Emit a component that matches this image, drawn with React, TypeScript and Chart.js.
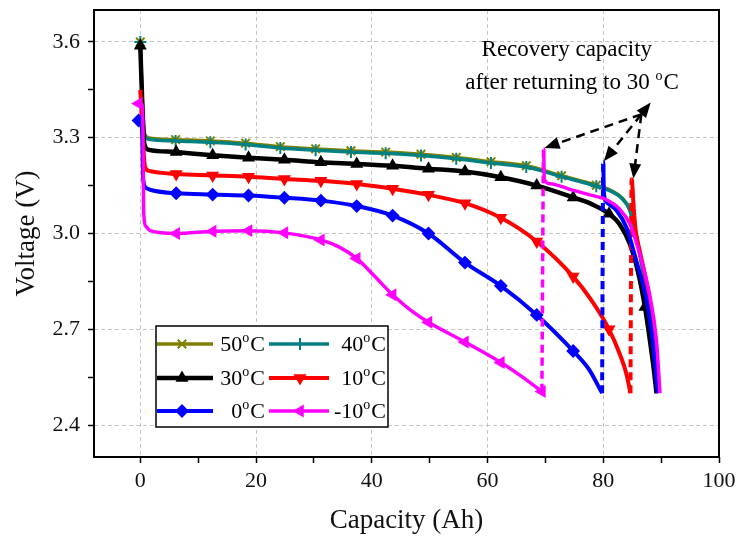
import React, { useEffect, useRef } from 'react';
import { Chart, registerables } from 'chart.js';

Chart.register(...registerables);

const FONT = "'Liberation Serif', 'Times New Roman', serif";

// ---- axes ----
const xMin = -8;
const xMax = 100;
const yMin = 2.3;
const yMax = 3.7;
const xTickValues = [0, 10, 20, 30, 40, 50, 60, 70, 80, 90, 100];
const xLabelValues = [0, 20, 40, 60, 80, 100];
const yTickValues = [2.4, 2.55, 2.7, 2.85, 3.0, 3.15, 3.3, 3.45, 3.6];
const yLabelValues = [2.4, 2.7, 3.0, 3.3, 3.6];

// ---- 50 °C ----
const cap50 = [0, 0.3, 0.7, 1.5, 6.1, 12.1, 18.2, 24.2, 30.3, 36.4, 42.4, 48.5, 54.6, 60.6, 66.7, 72.8, 78.8, 81.5, 83.2, 84.6, 85.5, 86.4, 87.4, 88.3, 88.9, 89.3];
const volt50 = [3.6, 3.43, 3.315, 3.299, 3.294, 3.29, 3.283, 3.272, 3.265, 3.259, 3.255, 3.248, 3.238, 3.225, 3.212, 3.181, 3.151, 3.133, 3.112, 3.075, 3.01, 2.93, 2.83, 2.71, 2.6, 2.5];
const mark50 = [0, 6.1, 12.1, 18.2, 24.2, 30.3, 36.4, 42.4, 48.5, 54.6, 60.6, 66.7, 72.8, 78.8];

// ---- 40 °C ----
const cap40 = [0, 0.3, 0.7, 1.5, 6.1, 12.1, 18.2, 24.2, 30.3, 36.4, 42.4, 48.5, 54.6, 60.6, 66.7, 72.8, 78.8, 81.5, 83.2, 84.6, 85.5, 86.4, 87.4, 88.3, 88.9, 89.3];
const volt40 = [3.6, 3.43, 3.31, 3.295, 3.29, 3.286, 3.279, 3.268, 3.261, 3.255, 3.251, 3.244, 3.234, 3.221, 3.208, 3.178, 3.148, 3.131, 3.11, 3.072, 3.005, 2.925, 2.825, 2.705, 2.595, 2.5];
const mark40 = [0, 6.1, 12.1, 18.2, 24.2, 30.3, 36.4, 42.4, 48.5, 54.6, 60.6, 66.7, 72.8, 78.8];

// ---- 30 °C ----
const cap30 = [0, 0.3, 0.7, 1.5, 6.2, 12.5, 18.7, 24.9, 31.2, 37.4, 43.6, 49.8, 56.1, 62.3, 68.5, 74.8, 78.0, 81.0, 82.8, 84.6, 86.0, 87.2, 88.1, 88.7, 89.2];
const volt30 = [3.588, 3.43, 3.28, 3.262, 3.255, 3.245, 3.237, 3.231, 3.223, 3.218, 3.212, 3.203, 3.194, 3.176, 3.15, 3.113, 3.092, 3.062, 3.03, 2.967, 2.88, 2.77, 2.66, 2.58, 2.5];
const mark30 = [0, 6.2, 12.5, 18.7, 24.9, 31.2, 37.4, 43.6, 49.8, 56.1, 62.3, 68.5, 74.8, 81.0, 87.2];

// ---- 10 °C ----
const cap10 = [0, 0.3, 0.8, 1.5, 6.2, 12.5, 18.7, 24.9, 31.2, 37.4, 43.6, 49.8, 56.1, 62.3, 68.5, 74.8, 78.0, 81.0, 82.8, 84.0, 84.7];
const volt10 = [3.45, 3.35, 3.21, 3.196, 3.186, 3.182, 3.178, 3.171, 3.165, 3.155, 3.14, 3.121, 3.095, 3.049, 2.975, 2.865, 2.79, 2.7, 2.625, 2.56, 2.5];
const mark10 = [6.2, 12.5, 18.7, 24.9, 31.2, 37.4, 43.6, 49.8, 56.1, 62.3, 68.5, 74.8, 81.0];
const rcap10 = [84.9, 85.3, 85.6, 86.3, 87.5, 88.3, 89.1, 89.5];
const rvolt10 = [3.17, 3.07, 3.01, 2.946, 2.842, 2.737, 2.632, 2.5];

// ---- 0 °C ----
const cap0 = [-0.3, 0.3, 0.5, 1.0, 1.7, 6.2, 12.5, 18.7, 24.9, 31.2, 37.4, 43.6, 49.8, 56.1, 62.3, 68.5, 74.8, 77.5, 79.8];
const volt0 = [3.354, 3.33, 3.17, 3.143, 3.137, 3.126, 3.122, 3.119, 3.112, 3.103, 3.086, 3.056, 3.0, 2.909, 2.836, 2.745, 2.632, 2.575, 2.5];
const mark0 = [-0.3, 6.2, 12.5, 18.7, 24.9, 31.2, 37.4, 43.6, 49.8, 56.1, 62.3, 68.5, 74.8];
const rcap0 = [80.0, 80.1, 80.5, 82.3, 84.0, 85.7, 87.5, 88.6, 89.4];
const rvolt0 = [3.223, 3.13, 3.1, 3.072, 3.019, 2.915, 2.789, 2.653, 2.5];

// ---- -10 °C ----
const capM10 = [-0.3, 0.4, 0.6, 1.0, 1.7, 6.2, 12.5, 18.7, 24.9, 31.2, 34.3, 37.4, 40.5, 43.6, 46.7, 49.8, 56.1, 62.3, 66.0, 69.4];
const voltM10 = [3.407, 3.4, 3.06, 3.022, 3.009, 3.0, 3.007, 3.009, 3.002, 2.98, 2.958, 2.922, 2.866, 2.808, 2.76, 2.722, 2.66, 2.596, 2.551, 2.505];
const markM10 = [-0.3, 6.2, 12.5, 18.7, 24.9, 31.2, 37.4, 43.6, 49.8, 56.1, 62.3, 69.4];
const rcapM10 = [69.7, 69.8, 70.8, 74.8, 79.4, 80.3, 82.8, 84.6, 86.3, 88.0, 89.2, 89.8];
const rvoltM10 = [3.265, 3.17, 3.156, 3.135, 3.113, 3.108, 3.077, 3.03, 2.936, 2.81, 2.664, 2.5];

// ---- annotation ----
const annoTextCap = [73.7, 74.6];
const annoTextVolt = [3.575, 3.47];
const arrowApex = [88.2, 3.41];
const arrowToCap = [69.85, 80.1, 85.2];
const arrowToVolt = [3.268, 3.226, 3.172];

type Series = {
  temp: string; color: string; style: string; rot: number; width: number; radius: number;
  cap: number[]; volt: number[]; rcap: number[]; rvolt: number[]; marks: number[]; order: number;
};

const SERIES: Series[] = [
  { temp: '50', color: '#808000', style: 'crossRot', rot: 0, width: 3.5, radius: 6, cap: cap50, volt: volt50, rcap: [], rvolt: [], marks: mark50, order: 5 },
  { temp: '40', color: '#008080', style: 'cross', rot: 0, width: 3.5, radius: 6, cap: cap40, volt: volt40, rcap: [], rvolt: [], marks: mark40, order: 4 },
  { temp: '30', color: '#000000', style: 'triangle', rot: 0, width: 4.5, radius: 5.5, cap: cap30, volt: volt30, rcap: [], rvolt: [], marks: mark30, order: 3 },
  { temp: '10', color: '#ff0000', style: 'triangle', rot: 180, width: 4, radius: 5.5, cap: cap10, volt: volt10, rcap: rcap10, rvolt: rvolt10, marks: mark10, order: 2 },
  { temp: '0', color: '#0000ff', style: 'rectRot', rot: 0, width: 4, radius: 5.5, cap: cap0, volt: volt0, rcap: rcap0, rvolt: rvolt0, marks: mark0, order: 1 },
  { temp: '-10', color: '#ff00ff', style: 'triangle', rot: -90, width: 3.5, radius: 5.5, cap: capM10, volt: voltM10, rcap: rcapM10, rvolt: rvoltM10, marks: markM10, order: 0 },
];

const near = (list: number[], v: number) => list.some((l) => Math.abs(l - v) < 1e-6);

function drawMarker(ctx: CanvasRenderingContext2D, style: string, rot: number, x: number, y: number, r: number, color: string) {
  ctx.save();
  ctx.translate(x, y);
  ctx.rotate((rot * Math.PI) / 180);
  ctx.fillStyle = color;
  ctx.strokeStyle = color;
  ctx.lineWidth = 2;
  ctx.setLineDash([]);
  ctx.beginPath();
  if (style === 'triangle') {
    ctx.moveTo(0, -r);
    ctx.lineTo(r * 0.866, r * 0.5);
    ctx.lineTo(-r * 0.866, r * 0.5);
    ctx.closePath();
    ctx.fill();
    ctx.stroke();
  } else if (style === 'rectRot') {
    ctx.moveTo(0, -r);
    ctx.lineTo(r, 0);
    ctx.lineTo(0, r);
    ctx.lineTo(-r, 0);
    ctx.closePath();
    ctx.fill();
    ctx.stroke();
  } else {
    if (style === 'crossRot') ctx.rotate(Math.PI / 4);
    ctx.moveTo(0, -r);
    ctx.lineTo(0, r);
    ctx.moveTo(-r, 0);
    ctx.lineTo(r, 0);
    ctx.stroke();
  }
  ctx.restore();
}

function drawDeg(ctx: CanvasRenderingContext2D, prefix: string, x: number, y: number, size: number, align: string) {
  const big = `${size}px ${FONT}`;
  const small = `${Math.round(size * 0.62)}px ${FONT}`;
  ctx.font = big;
  const w1 = ctx.measureText(prefix).width;
  const w3 = ctx.measureText('C').width;
  ctx.font = small;
  const w2 = ctx.measureText('o').width;
  const total = w1 + w2 + w3 + 1;
  const sx = align === 'right' ? x - total : align === 'center' ? x - total / 2 : x;
  ctx.fillStyle = '#000';
  ctx.textAlign = 'left';
  ctx.textBaseline = 'middle';
  ctx.font = big;
  ctx.fillText(prefix, sx, y);
  ctx.font = small;
  ctx.fillText('o', sx + w1, y - size * 0.3);
  ctx.font = big;
  ctx.fillText('C', sx + w1 + w2 + 1, y);
}

function head(ctx: CanvasRenderingContext2D, tx: number, ty: number, ux: number, uy: number) {
  const hl = 15;
  const hw = 6;
  const bx = tx - ux * hl;
  const by = ty - uy * hl;
  ctx.beginPath();
  ctx.moveTo(tx, ty);
  ctx.lineTo(bx - uy * hw, by + ux * hw);
  ctx.lineTo(bx + uy * hw, by - ux * hw);
  ctx.closePath();
  ctx.fill();
}

const decorPlugin = {
  id: 'decor',
  afterDatasetsDraw(chart: any) {
    const { ctx, chartArea: ca, scales } = chart;
    const xs = scales.x;
    const ys = scales.y;
    ctx.save();
    ctx.setLineDash([]);
    // frame
    ctx.strokeStyle = '#000';
    ctx.lineWidth = 2;
    ctx.strokeRect(ca.left, ca.top, ca.right - ca.left, ca.bottom - ca.top);

    // legend
    const bx = ca.left + 62;
    const by = ca.top + 316;
    const bw = 232;
    const bh = 101;
    ctx.fillStyle = '#fff';
    ctx.fillRect(bx, by, bw, bh);
    ctx.lineWidth = 1.5;
    ctx.strokeStyle = '#000';
    ctx.strokeRect(bx, by, bw, bh);
    const rowsY = [18, 52, 85];
    const cols = [
      { l0: 1, l1: 57, m: 26, tr: 109 },
      { l0: 113, l1: 173, m: 144, tr: 230 },
    ];
    SERIES.forEach((s, i) => {
      const c = cols[i % 2];
      const yy = by + rowsY[Math.floor(i / 2)];
      ctx.strokeStyle = s.color;
      ctx.lineWidth = s.width;
      ctx.beginPath();
      ctx.moveTo(bx + c.l0, yy);
      ctx.lineTo(bx + c.l1, yy);
      ctx.stroke();
      drawMarker(ctx, s.style, s.rot, bx + c.m, yy, s.radius, s.color);
      drawDeg(ctx, s.temp, bx + c.tr, yy + 1, 22, 'right');
    });

    // annotation text
    ctx.fillStyle = '#000';
    ctx.font = `23px ${FONT}`;
    ctx.textAlign = 'center';
    ctx.textBaseline = 'middle';
    ctx.fillText('Recovery capacity', xs.getPixelForValue(annoTextCap[0]), ys.getPixelForValue(annoTextVolt[0]));
    drawDeg(ctx, 'after returning to 30 ', xs.getPixelForValue(annoTextCap[1]), ys.getPixelForValue(annoTextVolt[1]), 23, 'center');

    // arrows
    const ax = xs.getPixelForValue(arrowApex[0]);
    const ay = ys.getPixelForValue(arrowApex[1]);
    const mx = xs.getPixelForValue(arrowToCap[1]);
    const my = ys.getPixelForValue(arrowToVolt[1]);
    let dx = ax - mx;
    let dy = ay - my;
    let L = Math.hypot(dx, dy);
    const ux = dx / L;
    const uy = dy / L;
    const baseX = ax - ux * 15;
    const baseY = ay - uy * 15;
    ctx.fillStyle = '#000';
    ctx.strokeStyle = '#000';
    head(ctx, ax, ay, ux, uy);
    arrowToCap.forEach((c, i) => {
      const tx = xs.getPixelForValue(c);
      const ty = ys.getPixelForValue(arrowToVolt[i]);
      dx = tx - baseX;
      dy = ty - baseY;
      L = Math.hypot(dx, dy);
      const vx = dx / L;
      const vy = dy / L;
      ctx.lineWidth = 2.5;
      ctx.setLineDash([9, 6]);
      ctx.beginPath();
      ctx.moveTo(baseX, baseY);
      ctx.lineTo(tx - vx * 14, ty - vy * 14);
      ctx.stroke();
      ctx.setLineDash([]);
      head(ctx, tx, ty, vx, vy);
    });
    ctx.restore();
  },
};

function buildDatasets() {
  const out: any[] = [];
  SERIES.forEach((s) => {
    const main = s.cap.map((c, i) => ({ x: c, y: s.volt[i] }));
    out.push({
      label: `${s.temp}°C`,
      data: main,
      borderColor: s.color,
      backgroundColor: s.color,
      borderWidth: s.width,
      pointStyle: s.style,
      pointRotation: s.rot,
      pointRadius: (ctx: any) => (ctx.raw && near(s.marks, ctx.raw.x) ? s.radius : 0),
      pointHoverRadius: 0,
      pointBorderWidth: 2,
      pointBackgroundColor: s.color,
      pointBorderColor: s.color,
      cubicInterpolationMode: 'monotone',
      order: s.order,
    });
    if (s.rcap.length) {
      const last = main[main.length - 1];
      const rec = [last].concat(s.rcap.map((c, i) => ({ x: c, y: s.rvolt[i] })));
      out.push({
        label: `${s.temp}°C recovery`,
        data: rec,
        borderColor: s.color,
        backgroundColor: s.color,
        borderWidth: s.width,
        pointRadius: 0,
        pointHoverRadius: 0,
        cubicInterpolationMode: 'monotone',
        segment: {
          borderDash: (ctx: any) => (ctx.p0DataIndex === 0 ? [8, 5] : undefined),
        },
        order: s.order,
      });
    }
  });
  return out;
}

export default function App() {
  const canvasRef = useRef<HTMLCanvasElement>(null);

  useEffect(() => {
    if (!canvasRef.current) return;
    const chart = new Chart(canvasRef.current, {
      type: 'line',
      data: { datasets: buildDatasets() },
      options: {
        animation: false,
        responsive: false,
        maintainAspectRatio: false,
        layout: { padding: { left: 0, right: 17, top: 10, bottom: 0 } },
        plugins: { legend: { display: false }, tooltip: { enabled: false } },
        scales: {
          x: {
            type: 'linear',
            min: xMin,
            max: xMax,
            afterBuildTicks: (s: any) => {
              s.ticks = xTickValues.map((v) => ({ value: v }));
            },
            afterFit: (s: any) => {
              s.height = 81;
              s.paddingLeft = 0;
              s.paddingRight = 0;
            },
            ticks: {
              autoSkip: false,
              maxRotation: 0,
              padding: 5,
              color: '#111',
              font: { family: FONT, size: 22 },
              callback: (v: any) => (near(xLabelValues, Number(v)) ? String(v) : ''),
            },
            grid: {
              color: (c: any) => (c.tick && near(xLabelValues, c.tick.value) ? '#c4c4c4' : 'rgba(0,0,0,0)'),
              lineWidth: 1,
              tickColor: '#000',
              tickWidth: 1.5,
              tickLength: 6,
            },
            border: { display: false, dash: [4, 3] },
            title: {
              display: true,
              text: 'Capacity (Ah)',
              color: '#111',
              font: { family: FONT, size: 27 },
              padding: { top: 0, bottom: 1 },
            },
          },
          y: {
            type: 'linear',
            min: yMin,
            max: yMax,
            afterBuildTicks: (s: any) => {
              s.ticks = yTickValues.map((v) => ({ value: v }));
            },
            afterFit: (s: any) => {
              s.width = 94;
              s.paddingTop = 0;
              s.paddingBottom = 0;
            },
            ticks: {
              autoSkip: false,
              padding: 8,
              color: '#111',
              font: { family: FONT, size: 22 },
              callback: (v: any) => (near(yLabelValues, Number(v)) ? Number(v).toFixed(1) : ''),
            },
            grid: {
              color: (c: any) => (c.tick && near(yLabelValues, c.tick.value) ? '#c4c4c4' : 'rgba(0,0,0,0)'),
              lineWidth: 1,
              tickColor: '#000',
              tickWidth: 1.5,
              tickLength: 6,
            },
            border: { display: false, dash: [4, 3] },
            title: {
              display: true,
              text: 'Voltage (V)',
              color: '#111',
              font: { family: FONT, size: 27 },
              padding: { top: 11, bottom: 0 },
            },
          },
        },
      },
      plugins: [decorPlugin],
    } as any);
    return () => chart.destroy();
  }, []);

  return (
    <div style={{ position: 'fixed', left: 0, top: 0, width: 736, height: 538, background: '#fff' }}>
      <canvas ref={canvasRef} width={736} height={538} style={{ display: 'block' }} />
    </div>
  );
}
